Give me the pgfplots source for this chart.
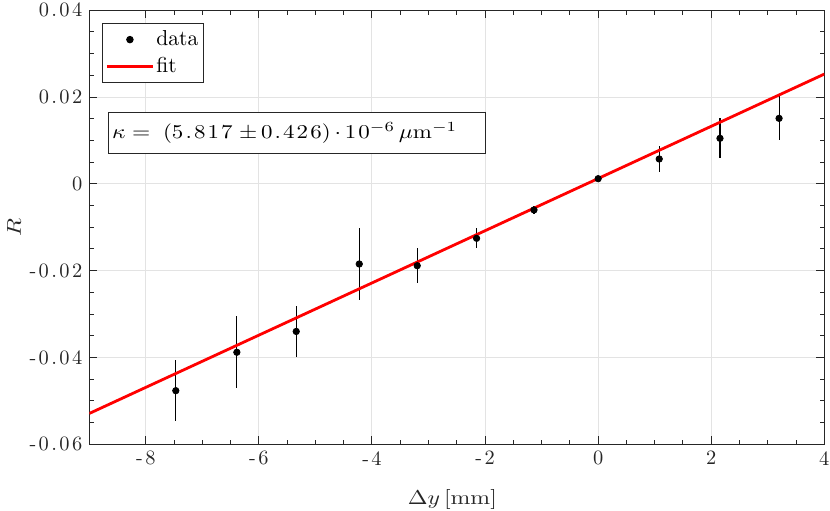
\documentclass[border=0pt]{standalone}
\usepackage{graphicx}
\usepackage{pgfplots}
\pgfplotsset{compat=1.18}
\usepackage{pgfplotstable}
\newcommand\ks{\kern1.2pt}
\newcommand\qs{\kern0.9pt}
\definecolor{axgray}{HTML}{262626}
\definecolor{gridgray}{HTML}{E3E3E3}
\pgfplotstableread{
x y e
-7.47 -0.04765 0.0071
-6.39 -0.0388 0.0083
-5.34 -0.0340 0.0059
-4.225 -0.01846 0.0084
-3.20 -0.01885 0.0040
-2.15 -0.01254 0.0023
-1.135 -0.0060 0.0010
0 0.0012 0.0003
1.08 0.00574 0.0029
2.155 0.0105 0.0046
3.20 0.0151 0.0051
}\datatable
\pgfplotstableread{
x y
-9 -0.0529
4 0.0253
}\fittable
\pgfplotsset{
  longline/.style={legend image code/.code={\draw[##1] (0cm,0cm) -- (23pt,0cm);}},
  dotimg/.style={legend image code/.code={\draw[##1] plot coordinates {(11.5pt,0cm)};}},
}
\begin{document}
\begin{tikzpicture}
\begin{axis}[
  name=ax,
  scale only axis,
  width=367.5pt, height=217pt,
  xmin=-9, xmax=4, ymin=-0.06, ymax=0.04,
  xtick={-8,-6,-4,-2,0,2,4},
  xticklabels={-\ks8,-\ks6,-\ks4,-\ks2,0,2,4},
  ytick={-0.06,-0.04,-0.02,0,0.02,0.04},
  yticklabels={-\ks0\ks.\ks0\ks6,-\ks0\ks.\ks0\ks4,-\ks0\ks.\ks0\ks2,0,0\ks.\ks0\ks2,0\ks.\ks0\ks4},
  scaled y ticks=false,
  minor x tick num=3,
  minor y tick num=3,
  tick align=inside,
  major tick length=4pt,
  minor tick length=2.2pt,
  axis line style={axgray, line width=0.5pt},
  every tick/.style={axgray, line width=0.5pt},
  tick label style={text=axgray, font=\fontsize{10.2}{12}\selectfont},
  grid=major,
  major grid style={gridgray, line width=0.5pt},
  xlabel={\resizebox{44.5pt}{\height}{$\Delta y\,[\mathrm{mm}]$}},
  ylabel={\resizebox{9pt}{\height}{$R$}},
  label style={text=axgray, font=\fontsize{10}{12}\selectfont},
  xlabel style={at={(axis description cs:0.494,0)}, anchor=base, yshift=-30.3pt},
  ylabel style={at={(axis description cs:-0.1024,0.5)}, anchor=center},
  legend cell align=left,
  legend style={at={(axis description cs:0.0169,0.97)}, anchor=north west,
    draw=axgray, line width=0.5pt, fill=white, font=\fontsize{10.8}{12}\selectfont,
    inner xsep=1.65pt, inner ysep=2.4pt, row sep=2.2pt,
    nodes={inner sep=1pt}},
]
\addplot[only marks, mark=*, mark size=1.6pt, black, dotimg,
  error bars/.cd, y dir=both, y explicit,
  error bar style={black, line width=0.55pt}, error mark=none]
  table[x=x, y=y, y error=e] {\datatable};
\addlegendentry{data}
\addplot[red, line width=1.4pt, longline]
  table[x=x, y=y] {\fittable};
\addlegendentry{fit}
\node[draw=axgray, line width=0.5pt, fill=white, anchor=north west,
  text width=184.9pt, minimum height=20.8pt, inner sep=1.7pt, align=left,
  font=\fontsize{9.8}{11}\selectfont, text=black]
  at (axis description cs:0.0259,0.7664)
  {\resizebox{172.5pt}{\height}{$\kappa$\;$=$\;\;(5\qs.\qs8\qs1\qs7\;$\pm$\,0\qs.\qs4\qs2\qs6)\,$\cdot$\,1\qs0$^{-6}$\,$\mu$m$^{-1}$}};
\end{axis}
\pgfresetboundingbox
\path[use as bounding box] ([shift={(-44.65pt,-33.35pt)}]ax.south west) rectangle ([shift={(2.85pt,5.15pt)}]ax.north east);
\end{tikzpicture}
\end{document}
